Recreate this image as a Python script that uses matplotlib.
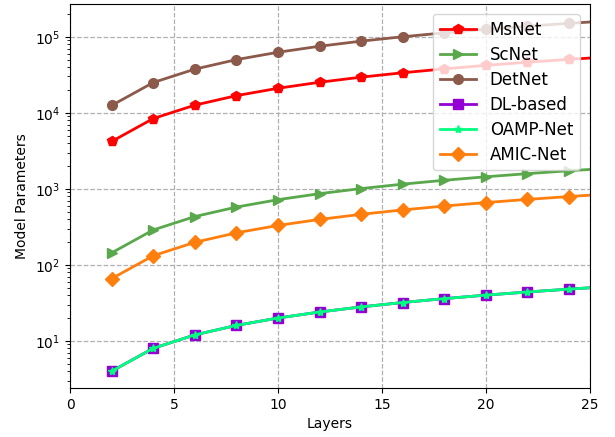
import numpy as np
import matplotlib
matplotlib.use("Agg")
from matplotlib import pyplot as plt

# layers evaluated (curves run past the visible x range)
layers = [2, 4, 6, 8, 10, 12, 14, 16, 18, 20, 22, 24, 26]

# parameter counts per model
msnet = [4200, 8400, 12600, 16800, 21000, 25200, 29400, 33600, 37800, 42000, 46200, 50400, 54600]
scnet = [144, 288, 432, 576, 720, 864, 1008, 1152, 1296, 1440, 1584, 1728, 1872]
detnet = [12500, 25000, 37500, 50000, 62500, 75000, 87500, 100000, 112500, 125000, 137500, 150000, 162500]
dl_based = [4, 8, 12, 16, 20, 24, 28, 32, 36, 40, 44, 48, 52]
oamp_net = [4, 8, 12, 16, 20, 24, 28, 32, 36, 40, 44, 48, 52]
amic_net = [66, 132, 198, 264, 330, 396, 462, 528, 594, 660, 726, 792, 858]

fig = plt.figure(figsize=(6.15, 4.37), dpi=100)
ax = fig.add_axes([0.114, 0.112, 0.845, 0.879])

ax.semilogy(layers, msnet, color="red", marker="p", markersize=7, linewidth=2, label="MsNet")
ax.semilogy(layers, scnet, color="#59a84b", marker=">", markersize=7, linewidth=2, label="ScNet")
ax.semilogy(layers, detnet, color="#8c5a4b", marker="o", markersize=7, linewidth=2, label="DetNet")
ax.semilogy(layers, dl_based, color="#9400d3", marker="s", markersize=7, linewidth=2, label="DL-based")
ax.semilogy(layers, oamp_net, color="#00ff7f", marker="*", markersize=6, linewidth=2, label="OAMP-Net")
ax.semilogy(layers, amic_net, color="#ff7f0e", marker="D", markersize=7, linewidth=2, label="AMIC-Net")

ax.set_xlim(0, 25)
ax.set_ylim(2.4, 2.7e5)
ax.set_xlabel("Layers")
ax.set_ylabel("Model Parameters")
ax.grid(True, which="major", linestyle="--", color="#b0b0b0", linewidth=0.9)
ax.legend(loc="upper right", fontsize=12, handlelength=2.2, labelspacing=0.42,
          borderaxespad=0.6)

plt.savefig("out.png", dpi=100)
